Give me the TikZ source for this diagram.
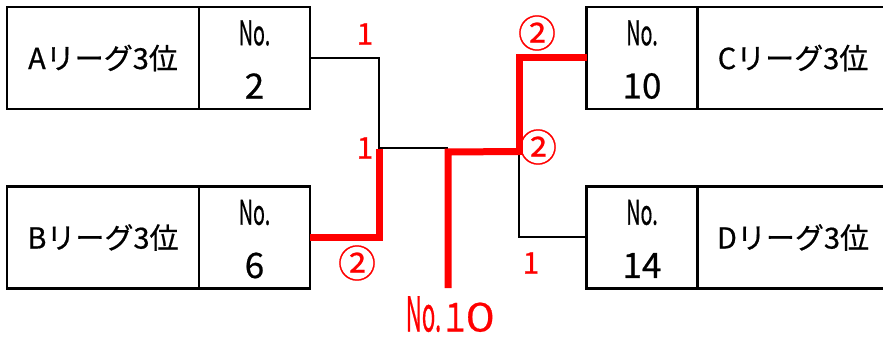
\documentclass[tikz,border=0pt]{standalone}
\usepackage{fontspec}
\setmainfont{Noto Sans CJK JP}
\newfontfamily\medfont[FakeBold=0.6]{Noto Sans CJK JP}
\usetikzlibrary{calc}
\begin{document}
\begin{tikzpicture}[x=1pt,y=-1pt,
  box/.style={draw, line width=2.5pt, inner sep=0pt, outer sep=0pt, minimum height=102pt},
  namebox/.style={box, minimum width=192pt},
  numbox/.style={box, minimum width=111pt},
  lbl/.style={inner sep=0pt, font=\medfont\fontsize{29}{32}\selectfont},
  nolbl/.style={inner sep=0pt, font=\medfont\fontsize{34}{36}\selectfont},
  numlbl/.style={inner sep=0pt, font=\medfont\fontsize{35}{38}\selectfont},
  redone/.style={text=red, inner sep=0pt, font=\medfont\fontsize{30}{32}\selectfont},
  redtwo/.style={text=red, inner sep=0pt, font=\medfont\fontsize{38}{40}\selectfont},
  redbig/.style={text=red, inner sep=0pt, font=\medfont\fontsize{37}{40}\selectfont},
  lose/.style={draw=black, line width=2pt},
  win/.style={draw=red, line width=7pt, line join=miter}
]
\useasboundingbox (0,0) rectangle (883,339);
\begin{scope}
\clip (0,0) rectangle (883,339);
% boxes
\node[namebox] (Aname) at (103,58) {};
\node[numbox]  (Anum)  at (254.5,58) {};
\node[namebox] (Bname) at (103,237.5) {};
\node[numbox]  (Bnum)  at (254.5,237.5) {};
\node[numbox]  (Cnum)  at (642,58) {};
\node[namebox] (Cname) at (793,58) {};
\node[numbox]  (Dnum)  at (642,237.5) {};
\node[namebox] (Dname) at (793,237.5) {};
\end{scope}
% texts in boxes
\node[lbl] (At) at (Aname.center) {Aリーグ3位};
\node[lbl] (Bt) at (Bname.center) {Bリーグ3位};
\node[lbl] (Ct) at (Cname.center) {Cリーグ3位};
\node[lbl] (Dt) at (Dname.center) {Dリーグ3位};
\node[nolbl] (Ano) at ($(Anum.center)+(0,-25)$) {\scalebox{0.58}[1]{No.}};
\node[nolbl] (Bno) at ($(Bnum.center)+(0,-25)$) {\scalebox{0.58}[1]{No.}};
\node[nolbl] (Cno) at ($(Cnum.center)+(0,-25)$) {\scalebox{0.58}[1]{No.}};
\node[nolbl] (Dno) at ($(Dnum.center)+(0,-25)$) {\scalebox{0.58}[1]{No.}};
\node[numlbl] (An) at ($(Anum.center)+(0,28)$) {2};
\node[numlbl] (Bn) at ($(Bnum.center)+(0,28)$) {6};
\node[numlbl] (Cn) at ($(Cnum.center)+(0,28)$) {10};
\node[numlbl] (Dn) at ($(Dnum.center)+(0,28)$) {14};
% junction coordinates
\coordinate (jA) at (379,58);
\coordinate (jAB) at (379,148);
\coordinate (jB) at (379,237);
\coordinate (mid) at (448,148);
\coordinate (jCD) at (519,148);
\coordinate (jC) at (519,58);
\coordinate (jD) at (519,237);
\coordinate (bottom) at (448,288);
% losing lines
\draw[lose] (Anum.east |- jA) -- (jA) -- (jAB) -- (mid);
\draw[lose] (jCD) -- (jD) -- (Dnum.west |- jD);
% winning lines
\draw[win] (Bnum.east |- jB) -- (jB) -- ([yshift=-1.5pt]jAB);
\draw[win] (bottom) -- ([yshift=-4pt]mid) -- ([yshift=-3.5pt]mid -| jCD);
\draw[win] ([yshift=-7pt]jCD) -- (jC) -- (Cnum.west |- jC);
% result labels
\node[redone] (r1) at (365,34) {1};
\node[redone] (r2) at (365,148) {1};
\node[redtwo] (r3) at (357,263) {②};
\node[redtwo] (r4) at (537,33) {②};
\node[redtwo] (r5) at (538,147) {②};
\node[redone] (r6) at (531,263) {1};
\node[redbig, anchor=base] (winner) at (448.5,331.5) {\smash{\scalebox{0.6}[1.3]{No.}\makebox[28pt]{\scalebox{0.8}[1.05]{１}}\makebox[22pt]{\scalebox{1.2}[1.05]{０}}}};
\end{tikzpicture}
\end{document}
